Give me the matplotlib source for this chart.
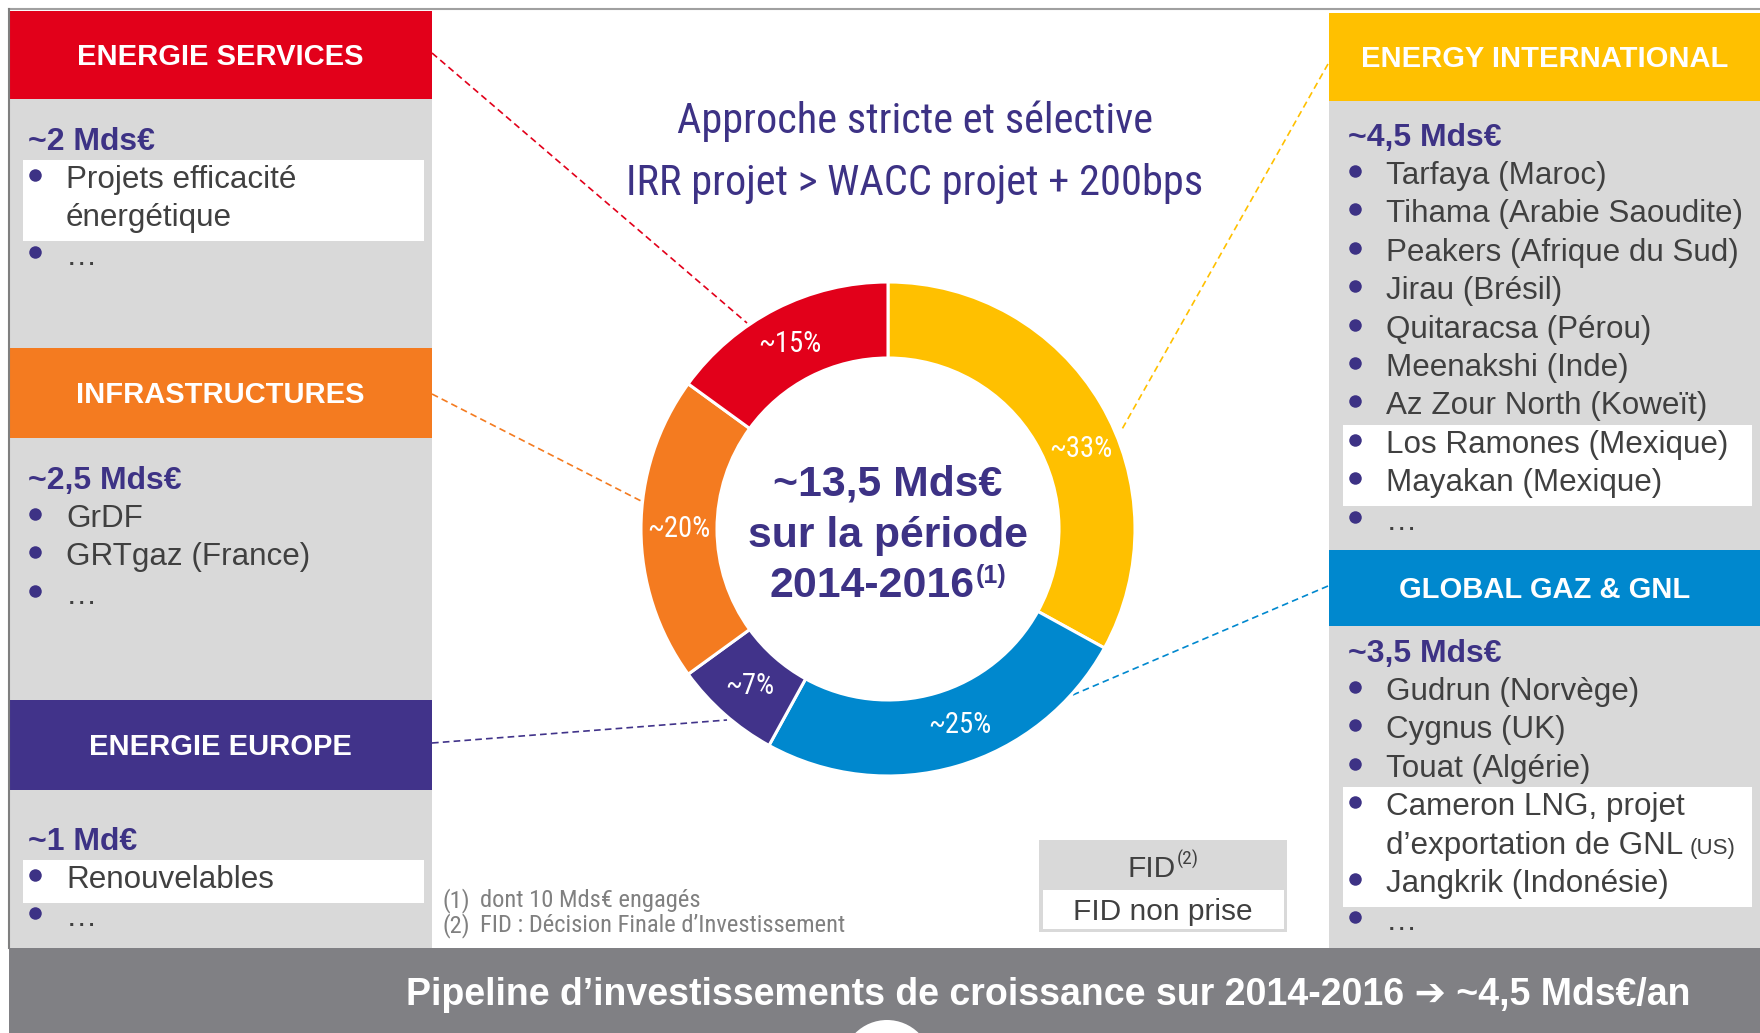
import os
import numpy as np
import matplotlib
matplotlib.use("Agg")
import matplotlib.pyplot as plt
from matplotlib.patches import Rectangle, Circle
from matplotlib import font_manager as fm

# ---- data -------------------------------------------------------------
shares = [33, 25, 7, 20, 15]
share_labels = ["~33%", "~25%", "~7%", "~20%", "~15%"]
seg_colors = ["#FFC000", "#0088CE", "#41338A", "#F47B20", "#E2001A"]
label_shift = [8, -4, 0, 0, -1]   # small angular nudges of the % labels

es_title, es_amount = "ENERGIE SERVICES", "~2 Mds€"
es_items = ["Projets efficacité\nénergétique", "…"]
inf_title, inf_amount = "INFRASTRUCTURES", "~2,5 Mds€"
inf_items = ["GrDF", "GRTgaz (France)", "…"]
eu_title, eu_amount = "ENERGIE EUROPE", "~1 Md€"
eu_items = ["Renouvelables", "…"]
ei_title, ei_amount = "ENERGY INTERNATIONAL", "~4,5 Mds€"
ei_items = ["Tarfaya (Maroc)", "Tihama (Arabie Saoudite)", "Peakers (Afrique du Sud)",
            "Jirau (Brésil)", "Quitaracsa (Pérou)", "Meenakshi (Inde)",
            "Az Zour North (Koweït)", "Los Ramones (Mexique)", "Mayakan (Mexique)", "…"]
gg_title, gg_amount = "GLOBAL GAZ & GNL", "~3,5 Mds€"
gg_items = ["Gudrun (Norvège)", "Cygnus (UK)", "Touat (Algérie)",
            "Cameron LNG, projet\nd’exportation de GNL", "Jangkrik (Indonésie)", "…"]
gg_suffix = {3: "(US)"}

title_lines = ["Approche stricte et sélective", "IRR projet > WACC projet + 200bps"]
center_lines = ["~13,5 Mds€", "sur la période", "2014-2016"]
notes = [("(1)", "dont 10 Mds€ engagés"), ("(2)", "FID : Décision Finale d’Investissement")]
bottom_text = "Pipeline d’investissements de croissance sur 2014-2016 ➔ ~4,5 Mds€/an"

# ---- fonts / colours --------------------------------------------------
plt.rcParams["font.family"] = ["Liberation Sans", "DejaVu Sans"]


def find_narrow():
    bad = ("bold", "italic", "oblique", "light", "thin", "medium", "black", "semibold", "extra")
    best, best_rank = None, 99
    for f in fm.fontManager.ttflist:
        base = os.path.basename(f.fname).lower()
        label = (f.name + " " + base).lower()
        if any(b in base for b in bad) or f.style != "normal":
            continue
        if not ("narrow" in label or "condensed" in label or f.stretch == "condensed"):
            continue
        if "liberation" in label:
            rank = 0
        elif "arial" in label:
            rank = 1
        elif "roboto" in label:
            rank = 2
        elif "noto" in label:
            rank = 3
        elif "open" in label:
            rank = 4
        elif "dejavu" in label:
            rank = 5
        else:
            rank = 6
        if rank < best_rank:
            best, best_rank = f, rank
    if best is None:
        return {"family": ["Liberation Sans", "DejaVu Sans"]}
    return {"fontproperties": fm.FontProperties(fname=best.fname)}


NARROW = find_narrow()

PURPLE = "#3D3285"
GRAY = "#D9D9D9"
DARK = "#404040"

W, H = 1760, 1033
fig = plt.figure(figsize=(W / 100, H / 100), dpi=100)
ax = fig.add_axes([0, 0, 1, 1])
ax.set_xlim(0, W)
ax.set_ylim(H, 0)
ax.axis("off")
renderer = fig.canvas.get_renderer()


def width_of(t):
    return t.get_window_extent(renderer).width


def narrow_text(a, x, y, s, size, **kw):
    t = a.text(x, y, s, **NARROW, **kw)
    t.set_fontsize(size)
    return t


def fit_size(t, target):
    # size of a narrow text so that it spans the width measured on the slide
    return t.get_fontsize() * target / width_of(t)


def panel(x0, x1, top, hbot, bot, color, title, amount, items, first, light, suffix=None):
    ax.add_patch(Rectangle((x0, top), x1 - x0, hbot - top, color=color, lw=0))
    ax.add_patch(Rectangle((x0, hbot), x1 - x0, bot - hbot, color=GRAY, lw=0))
    ax.text((x0 + x1) / 2, (top + hbot) / 2 + 10, title, ha="center", va="baseline",
            color="white", fontsize=21, fontweight="bold")
    ax.text(x0 + 19, first - 38, amount, ha="left", va="baseline", color=PURPLE,
            fontsize=23, fontweight="bold")
    k = 0
    for i, item in enumerate(items):
        lines = item.split("\n")
        b0 = first + 38.4 * k
        b1 = first + 38.4 * (k + len(lines) - 1)
        if i in light:
            ax.add_patch(Rectangle((x0 + 14, b0 - 28), x1 - x0 - 22, b1 - b0 + 43,
                                   color="white", lw=0))
        ax.plot(x0 + 26, b0 - 13, "o", color=PURPLE, ms=9, mew=0)
        for j, ln in enumerate(lines):
            t = ax.text(x0 + 57, b0 + 38.4 * j, ln, ha="left", va="baseline",
                        color=DARK, fontsize=22.6)
            if suffix and i in suffix and j == len(lines) - 1:
                ax.text(x0 + 57 + width_of(t) + 6, b0 + 38.4 * j, suffix[i], ha="left",
                        va="baseline", color=DARK, fontsize=16)
        k += len(lines)


# frame lines
ax.plot([9, W], [9, 9], color="#A0A0A0", lw=1.5)
ax.plot([9, 9], [9, 948], color="#7F7F7F", lw=1.5)

# left / right panels
panel(9, 432, 11, 99, 348, "#E2001A", es_title, es_amount, es_items, 188, [0])
panel(9, 432, 348, 438, 700, "#F47B20", inf_title, inf_amount, inf_items, 527, [])
panel(9, 432, 700, 790, 948, "#41338A", eu_title, eu_amount, eu_items, 888, [0])
panel(1329, W, 13, 101, 550, "#FFC000", ei_title, ei_amount, ei_items, 184, [7, 8])
panel(1329, W, 550, 626, 948, "#0088CE", gg_title, gg_amount, gg_items, 700, [3, 4], gg_suffix)

# dashed connectors (drawn under the donut)
connectors = [((432, 53), (747, 323), "#E2001A"), ((432, 394), (645, 503), "#F47B20"),
              ((432, 743), (727, 720), "#41338A"), ((1328, 64), (1121, 431), "#FFC000"),
              ((1328, 586), (1068, 697), "#0088CE")]
for (xa, ya), (xb, yb), c in connectors:
    ax.plot([xa, xb], [ya, yb], color=c, lw=1.2, linestyle=(0, (4, 2.5)))

# titles
tt = [narrow_text(ax, 915, yb, s, 32, ha="center", va="baseline", color=PURPLE)
      for s, yb in zip(title_lines, [133, 195])]
size = (fit_size(tt[0], 475) + fit_size(tt[1], 580)) / 2
for t in tt:
    t.set_fontsize(size)

# donut
cx, cy, R, r_in = 888, 529, 247, 171
axd = fig.add_axes([(cx - 300) / W, (H - cy - 300) / H, 600 / W, 600 / H])
axd.pie(shares, colors=seg_colors, radius=R, startangle=90, counterclock=False,
        wedgeprops=dict(width=R - r_in, edgecolor="white", linewidth=2.2))
axd.set_xlim(-300, 300)
axd.set_ylim(-300, 300)
axd.set_aspect("equal")
axd.axis("off")
cum = np.cumsum([0] + shares[:-1])
mids = (cum + np.array(shares) / 2) / 100 * 360 + np.array(label_shift)
pl = [narrow_text(axd, 209 * np.sin(a), 209 * np.cos(a), lab, 22.5, ha="center",
                  va="center", color="white")
      for lab, a in zip(share_labels, np.radians(mids))]
size = fit_size(pl[0], 63)
for t in pl:
    t.set_fontsize(size)

# centre text
for s, yb in zip(center_lines[:2], [495, 547]):
    ax.text(cx, yb, s, ha="center", va="baseline", color=PURPLE, fontsize=30.8,
            fontweight="bold")
t1 = ax.text(0, 597, center_lines[2], ha="left", va="baseline", color=PURPLE,
             fontsize=30.8, fontweight="bold")
t2 = ax.text(0, 583, "(1)", ha="left", va="baseline", color=PURPLE, fontsize=18,
             fontweight="bold")
w1, w2 = width_of(t1), width_of(t2)
t1.set_x(cx - (w1 + w2 + 2) / 2)
t2.set_x(cx - (w1 + w2 + 2) / 2 + w1 + 2)

# footnotes
fn = []
for (n, s), yb in zip(notes, [907, 932]):
    fn.append(narrow_text(ax, 443, yb, n, 13.5, ha="left", va="baseline", color="#808080"))
    fn.append(narrow_text(ax, 480, yb, s, 13.5, ha="left", va="baseline", color="#808080"))
size = fit_size(fn[3], 364)
for t in fn:
    t.set_fontsize(size)

# FID legend box
ax.add_patch(Rectangle((1039, 840), 248, 92, color=GRAY, lw=0))
ax.add_patch(Rectangle((1043, 890), 241, 39, color="white", lw=0))
f1 = ax.text(0, 877, "FID", ha="left", va="baseline", color=DARK, fontsize=21.5)
f2 = narrow_text(ax, 0, 865, "(2)", 14, ha="left", va="baseline", color=DARK)
w1, w2 = width_of(f1), width_of(f2)
f1.set_x(1163 - (w1 + w2) / 2)
f2.set_x(1163 - (w1 + w2) / 2 + w1 + 1)
ax.text(1163, 920, "FID non prise", ha="center", va="baseline", color=DARK, fontsize=21.5)

# bottom band
ax.add_patch(Rectangle((9, 948), W - 9, H - 948, color="#808084", lw=0))
ax.add_patch(Circle((887, 1065), 45, color="white", lw=0))
ax.text(1048, 1005, bottom_text, ha="center", va="baseline", color="white",
        fontsize=27, fontweight="bold")

fig.savefig("out.png", dpi=100)
